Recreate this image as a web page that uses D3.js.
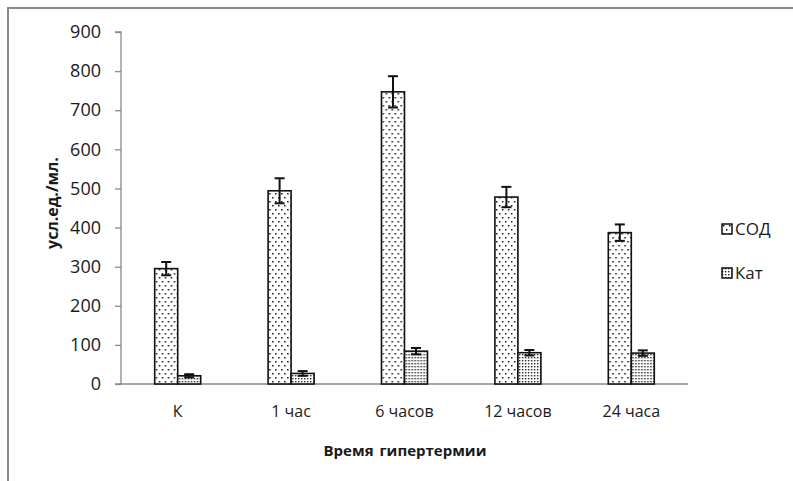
<!DOCTYPE html>
<html>
<head>
<meta charset="utf-8">
<script src="https://cdn.jsdelivr.net/npm/d3@7"></script>
<style>
  body { margin: 0; background: #fff; }
  text { font-family: "Open Sans", sans-serif; fill: #1a1a1a; }
</style>
</head>
<body>
<div id="container"></div>
<script>
/* DATA */
const categories = ["К", "1 час", "6 часов", "12 часов", "24 часа"];
const series = ["СОД", "Кат"];
const sodValues = [295, 494, 747, 478, 387];
const sodErrors = [17, 32, 40, 26, 21];
const katValues = [21, 27, 84, 80, 79];
const katErrors = [4, 6, 8, 7, 7];
const yTicks = [0, 100, 200, 300, 400, 500, 600, 700, 800, 900];

/* CONSTANTS */
const width = 793, height = 481;
const margin = {top: 32, bottom: 97, left: 121, right: 105};

const svg = d3.select("#container")
  .append("svg")
  .attr("width", width)
  .attr("height", height);

// hatch patterns
const defs = svg.append("defs");
const pSod = defs.append("pattern")
  .attr("id", "p-sod")
  .attr("patternUnits", "userSpaceOnUse")
  .attr("width", 6).attr("height", 8);
pSod.append("rect").attr("width", 6).attr("height", 8).attr("fill", "#fff");
pSod.append("rect").attr("x", 1).attr("y", 1).attr("width", 1.5).attr("height", 1.5).attr("fill", "#111");
pSod.append("rect").attr("x", 4).attr("y", 5).attr("width", 1.5).attr("height", 1.5).attr("fill", "#111");

const pKat = defs.append("pattern")
  .attr("id", "p-kat")
  .attr("patternUnits", "userSpaceOnUse")
  .attr("width", 3).attr("height", 3);
pKat.append("rect").attr("width", 3).attr("height", 3).attr("fill", "#fff");
pKat.append("rect").attr("x", 0).attr("y", 0).attr("width", 1.4).attr("height", 1.4).attr("fill", "#222");

// outer chart frame (only left and top visible)
svg.append("path")
  .attr("d", `M8,${height} V8 H${width}`)
  .attr("fill", "none")
  .attr("stroke", "#8a8a8a")
  .attr("stroke-width", 2);

/* SCALES */
const xScale = d3.scaleBand()
  .domain(categories)
  .range([margin.left, width - margin.right]);

const xInner = d3.scaleBand()
  .domain(series)
  .range([0, 46]);

const yScale = d3.scaleLinear()
  .domain([0, 900])
  .range([height - margin.bottom, margin.top]);

/* AXES */
const yAxis = d3.axisLeft(yScale)
  .tickValues(yTicks)
  .tickSize(6)
  .tickPadding(14);

const gy = svg.append("g")
  .attr("transform", `translate(${margin.left},0)`)
  .call(yAxis);
gy.select(".domain").attr("stroke", "#8a8a8a").attr("stroke-width", 1.3).attr("d", `M-6,${yScale(900)}H0V${yScale(0)}`);
gy.selectAll(".tick line").attr("stroke", "#8a8a8a").attr("stroke-width", 1.3);
gy.selectAll(".tick text").attr("font-size", 18).attr("fill", "#1a1a1a");

svg.append("line")
  .attr("x1", margin.left - 6)
  .attr("x2", width - margin.right)
  .attr("y1", yScale(0))
  .attr("y2", yScale(0))
  .attr("stroke", "#8a8a8a")
  .attr("stroke-width", 1.5);

svg.append("g")
  .selectAll("text")
  .data(categories)
  .join("text")
  .attr("x", d => xScale(d) + xScale.bandwidth() / 2)
  .attr("y", 417)
  .attr("text-anchor", "middle")
  .attr("font-size", 16)
  .text(d => d);

/* BARS */
const rows = categories.map((c, i) => ({
  cat: c,
  bars: [
    {s: "СОД", v: sodValues[i], e: sodErrors[i]},
    {s: "Кат", v: katValues[i], e: katErrors[i]}
  ]
}));

const groups = svg.append("g")
  .selectAll("g")
  .data(rows)
  .join("g")
  .attr("transform", d => `translate(${xScale(d.cat) + xScale.bandwidth() / 2 - 23},0)`);

groups.selectAll("rect")
  .data(d => d.bars)
  .join("rect")
  .attr("x", d => xInner(d.s))
  .attr("y", d => yScale(d.v))
  .attr("width", xInner.bandwidth())
  .attr("height", d => yScale(0) - yScale(d.v))
  .attr("fill", d => d.s === "СОД" ? "url(#p-sod)" : "url(#p-kat)")
  .attr("stroke", "#111")
  .attr("stroke-width", 1.6);

// error bars
const err = groups.selectAll("g.err")
  .data(d => d.bars)
  .join("g")
  .attr("class", "err")
  .attr("stroke", "#111")
  .attr("stroke-width", 2)
  .attr("transform", d => `translate(${xInner(d.s) + xInner.bandwidth() / 2},0)`);

err.append("line")
  .attr("y1", d => yScale(d.v + d.e))
  .attr("y2", d => yScale(d.v - d.e));
err.append("line")
  .attr("x1", -5).attr("x2", 5)
  .attr("y1", d => yScale(d.v + d.e))
  .attr("y2", d => yScale(d.v + d.e));
err.append("line")
  .attr("x1", -5).attr("x2", 5)
  .attr("y1", d => yScale(d.v - d.e))
  .attr("y2", d => yScale(d.v - d.e));

/* LABELS */
svg.append("text")
  .attr("transform", `translate(58,${(yScale(0) + yScale(900)) / 2 - 5}) rotate(-90)`)
  .attr("text-anchor", "middle")
  .attr("font-size", 16)
  .attr("font-weight", "bold")
  .text("усл.ед./мл.");

svg.append("text")
  .attr("x", 405)
  .attr("y", 456)
  .attr("text-anchor", "middle")
  .attr("font-size", 15)
  .attr("font-weight", "bold")
  .attr("word-spacing", 2)
  .text("Время гипертермии");

/* LEGEND */
const legend = svg.append("g")
  .selectAll("g")
  .data(series)
  .join("g")
  .attr("transform", (d, i) => `translate(722,${224 + i * 44})`);

legend.append("rect")
  .attr("width", 10).attr("height", 10)
  .attr("fill", d => d === "СОД" ? "url(#p-sod)" : "url(#p-kat)")
  .attr("stroke", "#111")
  .attr("stroke-width", 1.5);

legend.append("text")
  .attr("x", 13)
  .attr("y", 5)
  .attr("dy", "0.35em")
  .attr("font-size", 17)
  .text(d => d);
</script>
</body>
</html>
